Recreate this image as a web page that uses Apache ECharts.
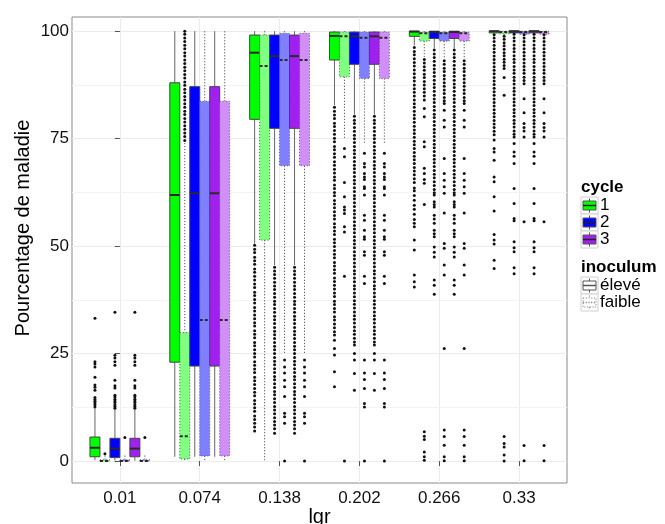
<!DOCTYPE html>
<html>
<head>
<meta charset="utf-8">
<script src="https://cdn.jsdelivr.net/npm/echarts@6/dist/echarts.min.js"></script>
<style>html,body{margin:0;padding:0;background:#fff}#c{width:665px;height:524px}</style>
</head>
<body>
<div id="c"></div>
<script>
// ---------------- data ----------------
const categories = ['0.01', '0.074', '0.138', '0.202', '0.266', '0.33'];
const yTicks = [0, 25, 50, 75, 100];
const cycles = ['1', '2', '3'];
const inocula = ['élevé', 'faible'];

// box stats per lgr category: [whisker low, Q1, median, Q3, whisker high]
const box_c1_eleve = [
  [0.2, 1.0, 3.1, 5.6, 12.2],
  [1.0, 23.0, 61.9, 88.0, 100],
  [50.6, 79.5, 95.0, 99.1, 100],
  [82.8, 93.3, 98.9, 99.8, 100],
  [96.7, 98.8, 99.9, 100, 100],
  [99.4, 99.6, 100, 100, 100]
];
const box_c1_faible = [
  [0, 0, 0, 0.3, 1.3],
  [0.2, 0.5, 5.8, 29.9, 74.0],
  [0.2, 51.4, 91.9, 99.1, 100],
  [75.0, 89.4, 98.8, 99.8, 100],
  [94.0, 97.7, 99.5, 99.8, 100],
  [99.0, 99.4, 99.8, 100, 100]
];
const box_c2_eleve = [
  [0.1, 0.8, 2.9, 5.3, 11.9],
  [1.0, 22.1, 62.3, 87.1, 100],
  [45.6, 77.4, 94.2, 99.1, 100],
  [80.6, 92.3, 98.8, 99.8, 100],
  [96.0, 98.3, 99.8, 100, 100],
  [99.3, 99.6, 100, 100, 100]
];
const box_c2_faible = [
  [0, 0, 0, 0.3, 1.3],
  [0.2, 1.2, 32.8, 83.7, 100],
  [25.1, 68.7, 93.3, 99.5, 100],
  [73.9, 89.0, 98.5, 99.8, 100],
  [93.6, 97.7, 99.5, 99.8, 100],
  [99.0, 99.3, 99.8, 100, 100]
];
const box_c3_eleve = [
  [0.1, 1.0, 2.9, 5.3, 11.9],
  [1.0, 22.1, 62.3, 87.1, 100],
  [45.6, 77.4, 94.2, 99.1, 100],
  [80.6, 92.3, 98.8, 99.8, 100],
  [96.0, 98.3, 99.8, 100, 100],
  [99.3, 99.6, 100, 100, 100]
];
const box_c3_faible = [
  [0, 0, 0, 0.3, 1.3],
  [0.2, 1.2, 32.8, 83.7, 100],
  [25.1, 68.7, 93.3, 99.5, 100],
  [73.9, 89.0, 98.5, 99.8, 100],
  [93.6, 97.7, 99.5, 99.8, 100],
  [99.0, 99.3, 99.8, 100, 100]
];

// outliers per lgr category
const out_c1_eleve = [
  [12.6,13.1,13.5,13.9,14.3,14.8,16.5,17.2,17.7,19.5,21.9,22.6,23.1,33.2],
  [],
  [50.2,49.3,48.5,47.4,46.6,45.8,44.7,43.9,43.0,42.1,41.2,40.4,39.3,38.5,37.6,36.8,35.7,34.9,34.0,33.1,32.2,31.4,30.3,29.5,28.7,27.6,26.8,25.9,25.0,24.2,23.1,22.3,21.4,20.6,19.5,18.7,17.8,16.9,16.0,15.2,14.1,13.3,12.4,11.6,10.5,9.7,8.8,7.9,7.0],
  [82.3,81.4,80.5,79.7,78.6,77.8,76.9,76.0,75.1,74.3,73.2,72.4,71.5,70.7,69.6,68.8,67.9,67.0,66.1,65.3,64.2,63.4,62.5,61.7,60.6,59.8,58.9,58.0,57.1,56.3,55.2,54.4,53.5,52.7,51.6,50.8,49.9,49.0,48.1,47.3,46.2,45.4,44.5,43.7,42.6,41.8,40.9,40.0,39.1,38.3,37.2,36.4,35.5,34.7,33.6,32.8,31.9,31.0,30.1,29.3,28.1,26.2,24.7,20.8,17.3],
  [96.2,95.3,94.5,93.6,92.7,91.9,91.0,90.1,89.2,88.4,87.5,86.6,85.8,84.9,84.0,83.1,82.3,81.4,80.5,79.7,78.8,77.9,77.0,76.2,75.3,74.4,73.6,72.7,71.8,70.9,70.1,69.2,68.3,67.5,66.6,65.7,64.8,63.5,62.9,61.8,60.7,59.5,58.6,57.4,56.2,55.3,54.5,51.4,49.1,43.3,41.7,40.5],
  [99.2,98.4,97.6,96.7,95.9,95.1,94.2,93.4,92.6,91.7,90.9,90.1,89.2,88.4,87.6,86.7,85.9,85.1,84.2,83.4,82.6,81.7,80.9,80.1,79.2,78.4,77.6,76.7,75.9,74.7,72.7,71.9,70.0,66.1,65.0,61.5,58.2,52.7,51.4,50.5,46.7,44.8]
];
const out_c1_faible = [
  [1.7],
  [74.6,75.5,76.3,77.2,78.0,78.9,79.7,80.6,81.4,82.3,83.1,84.0,84.8,85.7,86.5,87.4,88.2,89.1,89.9,90.8,91.6,92.5,93.3,94.2,95.0,95.9,96.7,97.6,98.4,99.3,100],
  [],
  [72.7,70.8,64.8,61.5,59.1,58.4,57.6,54.5,53.3,43.0,0],
  [93.4,92.6,91.7,90.9,90.0,89.2,88.3,87.5,86.6,85.8,84.9,84.0,82.0,80.1,74.3,73.1,68.1,66.9,65.5,64.6,59.7,6.8,5.8,5.0,2.1,1.0,0.2],
  [98.8,98.1,97.3,96.6,95.8,95.0,94.3,93.5,92.8,92.0,91.3,89.2,85.1,5.7,4.1,3.3,1.4,0]
];
const out_c2_eleve = [
  [12.3,12.7,13.1,13.6,14.0,14.4,14.9,15.3,17.0,17.5,18.8,22.3,23.1,24.0,24.6,34.6],
  [],
  [45.1,44.2,43.4,42.5,41.6,40.7,39.9,39.0,38.1,37.2,36.4,35.5,34.6,33.7,32.9,32.0,31.1,30.2,29.4,28.5,27.6,26.7,25.9,25.0,24.1,23.2,22.4,21.5,20.6,19.7,18.9,18.0,17.1,16.2,15.4,14.5,13.6,12.7,11.9,11.0,10.1,9.2,8.4,7.5,6.5],
  [80.2,79.3,78.5,77.6,76.7,75.8,75.0,74.1,73.2,72.3,71.5,70.6,69.7,68.8,68.0,67.1,66.2,65.3,64.5,63.6,62.7,61.8,61.0,60.1,59.2,58.3,57.5,56.6,55.7,54.8,54.0,53.1,52.2,51.3,50.5,49.6,48.7,47.8,47.0,46.1,45.2,44.3,43.5,42.6,41.7,40.8,40.0,39.1,38.2,37.3,36.5,35.6,34.7,33.8,33.0,32.1,31.2,30.3,29.5,28.6,27.7,27.0,25.0,23.5,20.4,16.5],
  [95.6,94.7,93.9,93.0,92.1,91.2,90.4,89.5,88.6,87.7,86.9,86.0,85.1,84.2,83.4,82.5,81.6,80.7,79.9,79.0,78.1,77.2,76.4,75.5,74.6,73.7,72.9,72.0,71.1,70.2,69.4,68.5,67.6,66.7,65.9,65.0,64.1,63.2,62.4,61.9,60.3,59.7,59.1,57.2,56.3,55.3,53.7,52.9,52.2,49.8,48.6,47.5,42.1,40.9,38.8],
  [99.3,98.5,97.7,96.8,96.0,95.2,94.3,93.5,92.7,91.8,91.0,90.2,89.3,88.5,87.7,86.8,86.0,85.2,84.3,83.5,82.7,81.8,81.0,80.2,79.3,78.5,77.7,76.8,76.0,75.4,73.9,71.9,70.9,69.2,63.4,59.9,56.4,55.9,51.0,49.6,48.7,45.0,43.6]
];
const out_c2_faible = [
  [5.5],
  [],
  [23.5,21.9,20.5,18.8,17.3,15.0,11.1,10.3,8.8,0],
  [71.6,69.2,68.4,66.9,66.1,65.5,63.8,63.4,61.9,57.2,56.0,53.7,52.2,51.6,48.7,47.9,43.0,41.3,23.5,20.5,19.0,16.9,13.4,12.6,0],
  [93.1,92.3,91.4,90.6,89.7,88.9,88.0,87.2,86.3,85.5,84.6,83.8,83.2,81.6,79.3,77.7,70.4,66.9,65.3,63.8,62.3,57.7,50.6,49.5,45.6,43.3,26.2,7.2,5.7,3.7,1.0,0.1],
  [99.2,98.4,97.6,96.8,95.9,95.1,94.3,93.5,92.6,91.8,91.0,90.2,89.3,88.5,87.8,84.3,81.0,78.5,77.6,76.8,75.4,55.7,3.6,0.1]
];
const out_c3_eleve = out_c2_eleve;   // identical in the picture
const out_c3_faible = out_c2_faible; // identical in the picture
const minorY = [12.5, 37.5, 62.5, 87.5];

// ---------------- styling / layout ----------------
const FILL = ['#00FF00', '#80FF80', '#0000FF', '#8080FF', '#A020F0', '#CF8FF7'];
const OFF = [-0.3125, -0.1875, -0.0625, 0.0625, 0.1875, 0.3125];
const BOX_W = 0.125;
const groups = [
  {box: box_c1_eleve, out: out_c1_eleve, dashed: false},
  {box: box_c1_faible, out: out_c1_faible, dashed: true},
  {box: box_c2_eleve, out: out_c2_eleve, dashed: false},
  {box: box_c2_faible, out: out_c2_faible, dashed: true},
  {box: box_c3_eleve, out: out_c3_eleve, dashed: false},
  {box: box_c3_faible, out: out_c3_faible, dashed: true}
];

function makeRender(fill, dashed) {
  return function (params, api) {
    const x = api.value(0);
    const w = api.size([BOX_W, 0])[0];
    const yLo = api.coord([x, api.value(1)])[1];
    const yQ1 = api.coord([x, api.value(2)])[1];
    const pM = api.coord([x, api.value(3)]);
    const yQ3 = api.coord([x, api.value(4)])[1];
    const yHi = api.coord([x, api.value(5)])[1];
    const cx = pM[0], left = cx - w / 2;
    const dash = dashed ? [1.2, 1.8] : null;
    const wcol = dashed ? '#555' : '#666';
    return {
      type: 'group',
      children: [
        {type: 'line', shape: {x1: cx, y1: yHi, x2: cx, y2: yQ3}, style: {stroke: wcol, lineWidth: 1, lineDash: dash}},
        {type: 'line', shape: {x1: cx, y1: yQ1, x2: cx, y2: yLo}, style: {stroke: wcol, lineWidth: 1, lineDash: dash}},
        {type: 'rect', shape: {x: left, y: yQ3, width: w, height: Math.max(yQ1 - yQ3, 0.6)},
          style: {fill: fill, stroke: dashed ? '#666' : '#444', lineWidth: 1, lineDash: dash}},
        {type: 'line', shape: {x1: left, y1: pM[1], x2: left + w, y2: pM[1]},
          style: {stroke: '#2a2a2a', lineWidth: 2, lineDash: dashed ? [3, 2] : null}}
      ]
    };
  };
}

const series = [];
// minor y grid lines
series.push({
  type: 'scatter', data: [], silent: true, z: 1,
  markLine: {
    silent: true, z: 1, symbol: ['none', 'none'], label: {show: false},
    lineStyle: {color: '#f3f3f3', width: 1, type: 'solid'},
    data: minorY.map(v => ({yAxis: v}))
  }
});
groups.forEach((g, gi) => {
  series.push({
    type: 'custom', z: 3,
    renderItem: makeRender(FILL[gi], g.dashed),
    encode: {x: 0, y: [1, 2, 3, 4, 5]},
    data: categories.map((c, i) => [i + OFF[gi]].concat(g.box[i]))
  });
});
groups.forEach((g, gi) => {
  const pts = [];
  g.out.forEach((arr, ci) => arr.forEach(v => pts.push([ci + OFF[gi], v])));
  series.push({
    type: 'scatter', z: 4, symbol: 'circle', symbolSize: 3, silent: true,
    itemStyle: {color: '#111', opacity: 1},
    data: pts
  });
});

// ---------------- legend (drawn as graphics) ----------------
const TXT = 'Liberation Sans, Arial, sans-serif';
const legend = [];
legend.push({type: 'text', left: 581, top: 179, style: {text: 'cycle', font: 'bold 17px ' + TXT, fill: '#000'}});
const cyc = [{fill: '#00FF00', t: cycles[0]}, {fill: '#0000FF', t: cycles[1]}, {fill: '#A020F0', t: cycles[2]}];
function keyGlyph(y0, fill, dashed, lab) {
  const x0 = 581, cx = x0 + 8.5;
  const dash = dashed ? [1.2, 1.5] : null;
  const stroke = dashed ? '#888' : '#555';
  return [
    {type: 'rect', shape: {x: x0, y: y0, width: 17, height: 17}, style: {fill: '#fff', stroke: '#d0d0d0', lineWidth: 1}},
    {type: 'line', shape: {x1: cx, y1: y0 + 1.5, x2: cx, y2: y0 + 4}, style: {stroke: stroke, lineWidth: 1, lineDash: dash}},
    {type: 'line', shape: {x1: cx, y1: y0 + 13, x2: cx, y2: y0 + 15.5}, style: {stroke: stroke, lineWidth: 1, lineDash: dash}},
    {type: 'rect', shape: {x: x0 + 2, y: y0 + 4, width: 13, height: 9}, style: {fill: fill, stroke: stroke, lineWidth: 1, lineDash: dash}},
    {type: 'line', shape: {x1: x0 + 2, y1: y0 + 8.5, x2: x0 + 15, y2: y0 + 8.5}, style: {stroke: dashed ? '#888' : (fill === '#fff' ? '#555' : '#222'), lineWidth: 1.5, lineDash: dash}},
    {type: 'text', left: 600, top: y0 + 0, style: {text: lab, font: '17px ' + TXT, fill: '#000'}}
  ];
}
cyc.forEach((c, i) => keyGlyph(197 + 17 * i, c.fill, false, c.t).forEach(e => legend.push(e)));
legend.push({type: 'text', left: 581, top: 259, style: {text: 'inoculum', font: 'bold 17px ' + TXT, fill: '#000'}});
inocula.forEach((t, i) => keyGlyph(277 + 17 * i, '#fff', i === 1, t).forEach(e => legend.push(e)));

legend.push({
  type: 'text', x: 23, y: 228, rotation: Math.PI / 2,
  style: {text: 'Pourcentage de maladie', font: '20px ' + TXT, fill: '#000', align: 'center', verticalAlign: 'middle'}
});

const chart = echarts.init(document.getElementById('c'), null, {renderer: 'canvas'});
chart.setOption({
  backgroundColor: '#fff',
  animation: false,
  grid: {left: 72, right: 98, top: 17, bottom: 41, containLabel: false, outerBoundsMode: 'none',
    show: true, borderColor: '#8a8a8a', borderWidth: 1, backgroundColor: '#fff'},
  xAxis: {
    type: 'value', min: -0.6, max: 5.6,
    name: 'lgr', nameLocation: 'middle', nameGap: 24, nameMoveOverlap: false,
    nameTextStyle: {fontFamily: TXT, fontSize: 20, color: '#000'},
    axisLine: {show: false},
    axisTick: {show: true, customValues: [0, 1, 2, 3, 4, 5], length: 5, lineStyle: {color: '#555'}},
    axisLabel: {customValues: [0, 1, 2, 3, 4, 5], formatter: v => categories[Math.round(v)], fontFamily: TXT, fontSize: 17, color: '#111', margin: 7},
    splitLine: {show: true, lineStyle: {color: '#ebebeb', width: 1}}
  },
  yAxis: {
    type: 'value', min: -5.1, max: 103.3,
    axisLine: {show: false},
    axisTick: {show: true, customValues: yTicks, length: 5, lineStyle: {color: '#555'}},
    axisLabel: {customValues: yTicks, fontFamily: TXT, fontSize: 17, color: '#111', margin: 3},
    splitLine: {show: true, lineStyle: {color: '#ebebeb', width: 1}}
  },
  graphic: legend,
  series: series
});
</script>
</body>
</html>
